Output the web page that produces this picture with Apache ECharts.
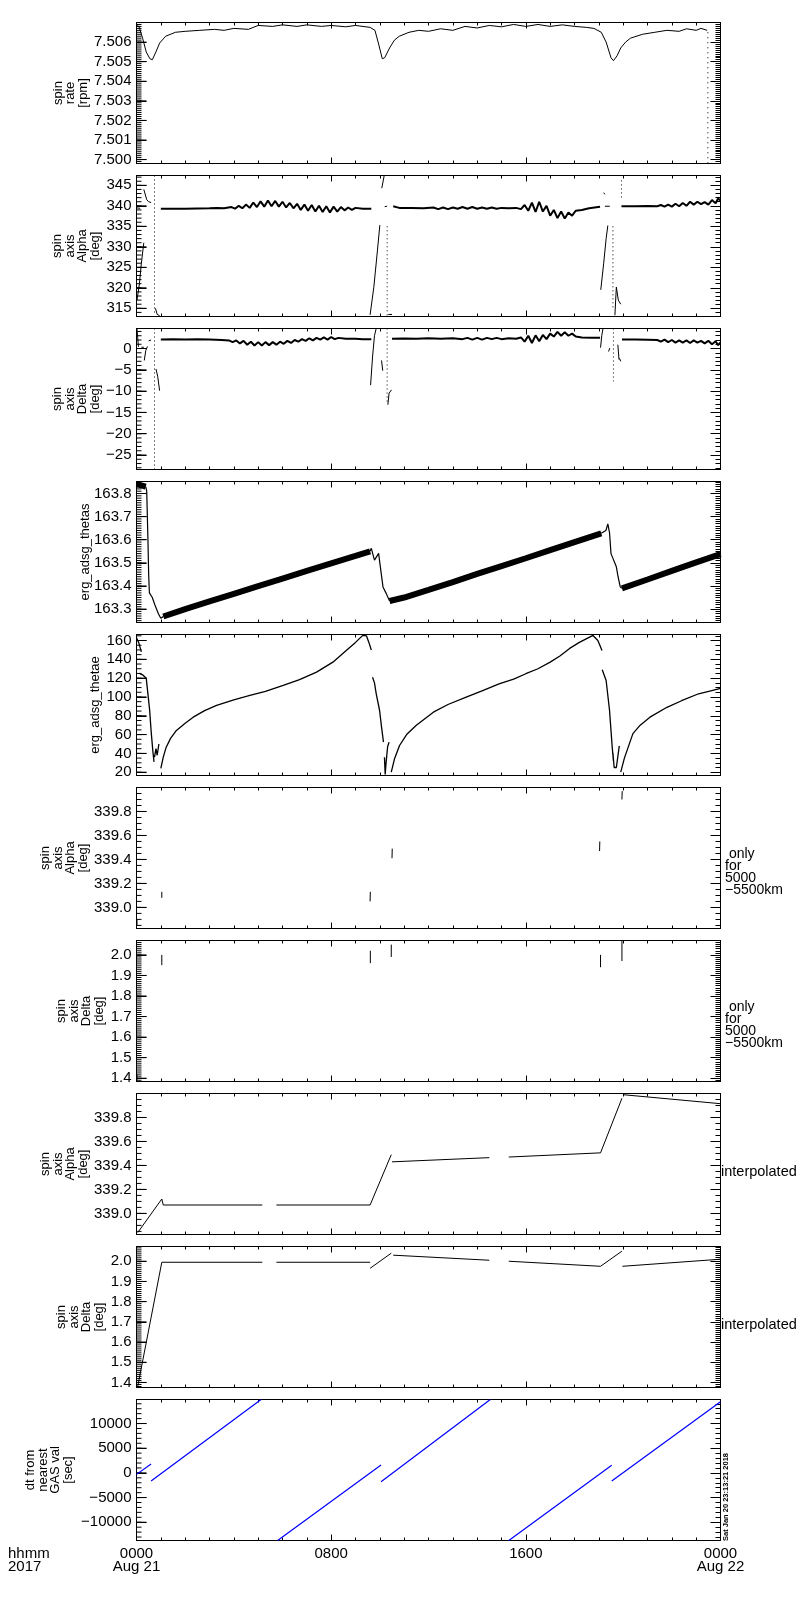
<!DOCTYPE html>
<html>
<head>
<meta charset="utf-8">
<script src="https://cdn.jsdelivr.net/npm/echarts@6/dist/echarts.min.js"></script>
<style>
  html, body { margin: 0; padding: 0; background: #fff; }
  #main { width: 800px; height: 1600px; }
</style>
</head>
<body>
<div id="main"></div>
<script>
// x ticks (hours from 2017-08-21 00:00)
var xTickHours = [0, 8, 16, 24];
var xTickLabels = ['0000\nAug 21', '0800', '1600', '0000\nAug 22'];

// y tick values per panel
var rateTicks = [7.500, 7.501, 7.502, 7.503, 7.504, 7.505, 7.506];
var alphaTicks = [315, 320, 325, 330, 335, 340, 345];
var deltaTicks = [-25, -20, -15, -10, -5, 0];
var thetasTicks = [163.3, 163.4, 163.5, 163.6, 163.7, 163.8];
var thetaeTicks = [20, 40, 60, 80, 100, 120, 140, 160];
var alphaRangeTicks = [339.0, 339.2, 339.4, 339.6, 339.8];
var deltaRangeTicks = [1.4, 1.5, 1.6, 1.7, 1.8, 1.9, 2.0];
var dtTicks = [-10000, -5000, 0, 5000, 10000];

// panel 1: spin rate [rpm]
var rateMain = [
  [0.0,7.50685],[0.1,7.5068],[0.25,7.5062],[0.4,7.5055],[0.55,7.50515],[0.65,7.5051],[0.8,7.5055],
  [0.95,7.50595],[1.2,7.5063],[1.6,7.5065],[2.0,7.50655],[2.6,7.5066],[3.2,7.50665],[3.6,7.5066],
  [4.0,7.5067],[4.6,7.50665],[5.0,7.50685],[5.6,7.5068],[6.0,7.50688],[6.6,7.5068],[7.0,7.50688],
  [7.6,7.5068],[8.0,7.50685],[8.6,7.50678],[9.0,7.50685],[9.6,7.50675],[9.8,7.5066],[9.95,7.5059],
  [10.1,7.50515],[10.2,7.5052],[10.4,7.5057],[10.6,7.5061],[10.8,7.5063],[11.2,7.5065],[11.6,7.5066],
  [12.0,7.50655],[12.5,7.50668],[13.0,7.5066],[13.5,7.5068],[14.0,7.50672],[14.5,7.50685],[15.0,7.50678],
  [15.5,7.5069],[16.0,7.5068],[16.5,7.5069],[17.0,7.5068],[17.5,7.50688],[18.0,7.5068],[18.5,7.50675],
  [18.8,7.5067],[19.1,7.5065],[19.3,7.506],[19.5,7.5052],[19.6,7.50505],[19.75,7.5053],[19.9,7.5057],
  [20.1,7.506],[20.3,7.5062],[20.8,7.5064],[21.3,7.5065],[21.8,7.5066],[22.3,7.50655],[22.6,7.50668],
  [23.0,7.5066],[23.2,7.5067],[23.45,7.5066]
];
var rateDrop = [[23.48,7.5065],[23.48,7.4998]];

// panel 2: spin axis Alpha [deg]
var alphaBand = [
  [1.0,339.3],[1.5,339.3],[2.0,339.3],[2.5,339.35],[3.0,339.4],[3.3,339.5],[3.6,339.4],[3.9,339.7],
  [4.05,339.3],[4.2,340.0],[4.35,339.4],[4.5,340.3],[4.65,339.5],[4.8,340.8],[4.95,339.7],[5.1,341.1],
  [5.25,339.8],[5.4,341.3],[5.55,339.9],[5.7,341.2],[5.85,339.8],[6.0,341.0],[6.15,339.6],[6.3,340.7],
  [6.45,339.4],[6.6,340.5],[6.75,339.0],[6.9,340.3],[7.05,338.8],[7.2,340.2],[7.35,338.6],[7.5,340.0],
  [7.65,338.5],[7.8,339.9],[7.95,338.4],[8.1,339.8],[8.25,338.6],[8.4,339.7],[8.55,338.9],[8.7,339.6],
  [8.85,339.0],[9.0,339.5],[9.3,339.3],[9.65,339.3],
  null,
  [10.55,339.9],[10.8,339.5],[11.3,339.5],[11.8,339.4],[12.2,339.6],[12.4,339.2],[12.6,339.6],[12.8,339.2],
  [13.0,339.6],[13.2,339.3],[13.4,339.7],[13.6,339.3],[13.8,339.7],[14.0,339.3],[14.2,339.6],[14.4,339.3],
  [14.6,339.6],[14.8,339.3],[15.0,339.5],[15.3,339.4],[15.6,339.5],[15.8,339.2],[15.95,340.2],[16.1,338.8],
  [16.25,340.8],[16.4,338.5],[16.55,341.0],[16.7,338.6],[16.85,340.0],[17.0,337.6],[17.15,339.0],[17.3,337.0],
  [17.45,338.6],[17.6,336.9],[17.75,338.4],[17.9,337.6],[18.05,338.8],[18.3,339.0],[18.6,339.4],[19.05,339.8],
  null,
  [19.93,339.9],[20.5,339.9],[21.0,339.95],[21.4,339.9],[21.55,340.2],[21.7,339.8],[21.85,340.3],[22.0,339.8],
  [22.15,340.5],[22.3,339.9],[22.45,340.7],[22.6,340.0],[22.75,341.0],[22.9,340.3],[23.05,341.0],[23.2,340.4],
  [23.35,340.9],[23.5,340.3],[23.65,341.4],[23.8,340.6],[23.9,341.8],[24.0,341.3]
];
var alphaLine = [
  [0.0,339.5],[0.15,339.4], null,
  [0.02,317],[0.12,321],[0.2,326],[0.3,331], null,
  [0.3,344],[0.42,341.5],[0.5,341],[0.6,340.8], null,
  [0.78,315],[0.85,313.5],[0.95,313.2], null,
  [9.6,313.4],[9.75,320],[9.9,329],[10.0,335.3], null,
  [10.08,344.3],[10.18,347.4], null,
  [10.35,313.5],[10.5,313.5], null,
  [10.2,339.8],[10.3,339.9], null,
  [19.08,319.5],[19.2,326],[19.3,332],[19.37,335.2], null,
  [19.2,343.2],[19.25,342.8], null,
  [19.25,339.9],[19.45,339.9], null,
  [19.66,313.3],[19.72,320.2],[19.8,317],[19.9,316]
];
var alphaDots = [[0.74,347.4],[0.74,313.6], null, [10.3,335],[10.3,313.2], null,
  [19.58,335],[19.58,314.8], null, [19.93,346.2],[19.93,342]];

// panel 3: spin axis Delta [deg]
var deltaBand = [
  [1.0,2.1],[1.5,2.15],[2.0,2.1],[2.5,2.15],[3.0,2.1],[3.5,2.0],[3.8,1.9],[3.95,1.5],[4.1,1.9],[4.25,1.2],
  [4.4,1.8],[4.55,0.9],[4.7,1.6],[4.85,0.7],[5.0,1.5],[5.15,0.7],[5.3,1.5],[5.45,0.8],[5.6,1.5],[5.75,0.9],
  [5.9,1.6],[6.05,1.1],[6.2,1.8],[6.35,1.3],[6.5,2.0],[6.65,1.6],[6.8,2.2],[6.95,1.8],[7.1,2.4],[7.25,1.9],
  [7.4,2.5],[7.55,2.1],[7.7,2.6],[7.85,2.1],[8.0,2.7],[8.15,2.2],[8.3,2.5],[8.6,2.3],[9.0,2.3],[9.3,2.2],[9.65,2.2],
  null,
  [10.5,2.3],[11.0,2.35],[11.5,2.3],[12.0,2.4],[12.5,2.3],[13.0,2.4],[13.4,2.2],[13.6,2.5],[13.8,2.1],[14.0,2.5],
  [14.2,2.1],[14.4,2.5],[14.6,2.2],[14.8,2.5],[15.0,2.2],[15.3,2.4],[15.6,2.3],[15.8,2.6],[15.95,1.6],[16.1,3.0],
  [16.25,1.3],[16.4,3.1],[16.55,1.7],[16.7,3.2],[16.85,2.2],[17.0,3.5],[17.15,2.8],[17.3,3.9],[17.45,3.0],[17.6,3.8],
  [17.75,3.0],[17.9,3.5],[18.05,2.8],[18.3,2.6],[18.7,2.5],[19.05,2.5],
  null,
  [19.95,2.1],[20.5,2.1],[21.0,2.05],[21.4,2.0],[21.55,1.6],[21.7,2.1],[21.85,1.5],[22.0,2.0],[22.15,1.4],[22.3,1.9],
  [22.45,1.4],[22.6,1.9],[22.75,1.3],[22.9,1.9],[23.05,1.4],[23.2,1.8],[23.35,1.2],[23.5,1.8],[23.65,1.0],[23.8,1.7],
  [23.9,0.8],[24.0,1.4]
];
var deltaLine = [
  [0.02,4.6],[0.05,2.5],[0.08,0.4], null,
  [0.2,0.3],[0.3,0.3], null,
  [0.32,-2.8],[0.38,-0.5],[0.45,0.5], null,
  [0.5,1.8],[0.6,2.0], null,
  [0.8,-4.8],[0.87,-6.5],[0.95,-9.9], null,
  [9.62,-8.6],[9.7,-2],[9.78,3],[9.85,4.7], null,
  [10.07,-2.8],[10.12,-5.2], null,
  [10.33,-13.2],[10.38,-10.5],[10.48,-9.7], null,
  [19.07,0.2],[19.12,3],[19.17,4.7], null,
  [19.4,-0.7],[19.45,0.1], null,
  [19.78,0.9],[19.83,-2.6], null,
  [19.85,-2.3],[19.9,-3.0]
];
var deltaDots = [[0.74,4.7],[0.74,-28.4], null, [10.3,4.7],[10.3,-12.7], null, [19.6,4.7],[19.6,-7.7]];

// panel 4: erg_adsg_thetas
var thetasBand = [
  [0.0,163.84],[0.2,163.835],[0.38,163.83], null,
  [1.1,163.268],[2,163.3],[3,163.333],[4,163.366],[5,163.399],[6,163.432],[7,163.465],[8,163.498],[9,163.53],[9.6,163.55],
  null,
  [10.4,163.335],[11,163.35],[12,163.383],[13,163.417],[14,163.452],[15,163.486],[16,163.52],[17,163.555],[18,163.59],[19.1,163.628],
  null,
  [19.95,163.39],[21,163.428],[22,163.465],[23,163.502],[24,163.538]
];
var thetasLine = [
  [0.38,163.83],[0.42,163.81],[0.47,163.6],[0.5,163.45],[0.53,163.37],[0.58,163.37],[0.65,163.35],[0.75,163.32],
  [0.9,163.28],[1.0,163.26],[1.1,163.268], null,
  [9.6,163.55],[9.65,163.563],[9.78,163.512],[9.95,163.541],[10.0,163.5],[10.1,163.42],[10.13,163.396],[10.26,163.368],[10.4,163.335],
  null,
  [19.1,163.628],[19.29,163.64],[19.37,163.669],[19.44,163.63],[19.5,163.54],[19.55,163.527],[19.72,163.483],[19.79,163.44],[19.88,163.396],[19.95,163.39]
];

// panel 5: erg_adsg_thetae
var thetaeLine = [
  [0.0,163],[0.1,157],[0.2,148], null,
  [0.12,125],[0.25,123.5],[0.4,120],[0.47,103],[0.54,86],[0.6,64],[0.67,43],[0.72,31], null,
  [0.74,36],[0.8,45],[0.85,38],[0.92,50], null,
  [1.0,24],[1.1,36],[1.22,46.6],[1.4,56],[1.64,64.4],[2.0,72],[2.33,78.5],[2.8,85.5],[3.29,91],[4.0,97],
  [4.66,101.6],[5.3,106],[6.03,112.2],[6.7,118.5],[7.4,126.4],[8.07,137],[8.62,149.5],[9.0,158],[9.3,165.5],
  [9.45,165],[9.55,158],[9.65,150], null,
  [9.7,121],[9.78,115],[9.85,103.6],[9.99,85.6],[10.07,68],[10.15,52], null,
  [10.19,36],[10.22,17.5],[10.25,28],[10.32,47],[10.38,52], null,
  [10.47,20],[10.6,34],[10.81,48.4],[11.1,60],[11.5,70],[12.2,83.8],[12.8,92],[13.55,99.8],[14.2,106.5],
  [14.9,114],[15.5,119],[16.0,124.7],[16.5,130],[17.0,137],[17.4,143.5],[17.8,151.6],[18.2,158],[18.5,162],
  [18.76,165.4],[18.96,160],[19.13,149.5], null,
  [19.14,129],[19.3,117.5],[19.44,85.6],[19.55,46.6],[19.6,32], null,
  [19.58,40],[19.63,25],[19.72,25],[19.84,48], null,
  [19.9,20],[20.05,35],[20.4,61],[20.7,70],[21.1,78.5],[21.8,89],[22.4,96],[23.1,103.4],[23.6,106.5],[24.0,109]
];

// panel 6 / 7: only for 5000-5500km
var alphaRange = [[0.02,338.85],[0.02,338.9], null, [1.04,339.08],[1.04,339.13], null, [9.6,339.05],[9.61,339.13], null,
  [10.5,339.41],[10.51,339.49], null, [19.03,339.47],[19.04,339.55], null, [19.95,339.9],[19.96,339.97]];
var deltaRange = [[0.02,1.39],[0.02,1.42], null, [1.04,1.95],[1.04,2.0], null, [9.61,1.96],[9.61,2.02], null,
  [10.47,1.99],[10.47,2.05], null, [19.07,1.94],[19.07,2.0], null, [19.95,1.97],[19.95,2.07]];

// panel 8 / 9: interpolated
var alphaInterp = [
  [0.05,338.84],[1.04,339.12],[1.1,339.07],[5.17,339.07], null,
  [5.75,339.07],[9.6,339.07],[10.47,339.49], null,
  [10.5,339.43],[14.5,339.465], null,
  [15.3,339.47],[19.07,339.505],[19.95,339.96], null,
  [20.0,339.99],[24,339.915]
];
var deltaInterp = [
  [0.05,1.38],[1.04,1.995],[5.17,1.995], null,
  [5.75,1.995],[9.6,1.995], null,
  [9.6,1.965],[10.47,2.04], null,
  [10.55,2.03],[14.5,2.005], null,
  [15.3,2.0],[19.07,1.975],[19.95,2.05], null,
  [19.97,1.975],[24,2.01]
];

// panel 10: dt from nearest GAS val [sec]
var dtGas = [
  [0,-300],[0.6,1800], null,
  [0.6,-1650],[5.12,14870], null,
  [5.8,-13700],[10.05,1600], null,
  [10.05,-1800],[14.54,14870], null,
  [15.3,-13700],[19.53,1550], null,
  [19.53,-1650],[24,14400]
];

var FONT = '"Liberation Sans", Arial, sans-serif';

var panels = [
  {min: 7.4998, max: 7.5070, ticks: rateTicks, minor: 0.0001, dec: 3, name: 'spin\nrate\n[rpm]', gap: 47},
  {min: 313, max: 347.4, ticks: alphaTicks, minor: 1, dec: 0, name: 'spin\naxis\nAlpha\n[deg]', gap: 35},
  {min: -28.4, max: 4.7, ticks: deltaTicks, minor: 1, dec: 0, name: 'spin\naxis\nDelta\n[deg]', gap: 35},
  {min: 163.242, max: 163.852, ticks: thetasTicks, minor: 0.01, dec: 1, name: 'erg_adsg_thetas', gap: 45},
  {min: 16.5, max: 166.4, ticks: thetaeTicks, minor: 5, dec: 0, name: 'erg_adsg_thetae', gap: 35},
  {min: 338.824, max: 340.0, ticks: alphaRangeTicks, minor: 0.05, dec: 1, name: 'spin\naxis\nAlpha\n[deg]', gap: 47},
  {min: 1.384, max: 2.07, ticks: deltaRangeTicks, minor: 0.01, dec: 1, name: 'spin\naxis\nDelta\n[deg]', gap: 31},
  {min: 338.824, max: 340.0, ticks: alphaRangeTicks, minor: 0.05, dec: 1, name: 'spin\naxis\nAlpha\n[deg]', gap: 47},
  {min: 1.375, max: 2.073, ticks: deltaRangeTicks, minor: 0.01, dec: 1, name: 'spin\naxis\nDelta\n[deg]', gap: 31},
  {min: -13700, max: 14870, ticks: dtTicks, minor: 1000, dec: 0, name: 'dt from\nnearest\nGAS val\n[sec]', gap: 62}
];

// minor tick positions: every step of the panel's minor interval inside its range
function minorValues(p) {
  var out = [];
  var k0 = Math.ceil(p.min / p.minor - 1e-6), k1 = Math.floor(p.max / p.minor + 1e-6);
  for (var k = k0; k <= k1; k++) out.push(+(k * p.minor).toFixed(6));
  return out;
}

var GRID_W = 584;
var HOURS_PER_PX = 24 / GRID_W;
var grids = [], xAxes = [], yAxes = [], series = [];

function fmtNum(v, dec) {
  return v.toFixed(dec).replace('-', '\u2212');
}

panels.forEach(function (p, i) {
  grids.push({
    left: 136.5, top: 22.5 + 153 * i, width: GRID_W, height: 141,
    show: true, borderColor: '#000', borderWidth: 1
  });

  ['bottom', 'top'].forEach(function (pos) {
    var showLab = (pos === 'bottom' && i === panels.length - 1);
    xAxes.push({
      gridIndex: i, type: 'value', position: pos, min: 0, max: 24, interval: 8,
      axisLine: {show: false, onZero: false}, splitLine: {show: false},
      axisTick: {show: true, inside: true, length: 6, lineStyle: {color: '#000', width: 1}},
      minorTick: {show: true, splitNumber: 8, length: 3, lineStyle: {color: '#000', width: 1}},
      axisLabel: {
        show: showLab, margin: 7, fontSize: 15, lineHeight: 13, color: '#000', fontFamily: FONT,
        showMinLabel: true, showMaxLabel: true,
        formatter: function (v) {
          var k = xTickHours.indexOf(Math.round(v));
          return k >= 0 ? xTickLabels[k] : '';
        }
      }
    });
  });

  var minors = minorValues(p);
  // 3i: left axis with labels, name and major ticks; 3i+1, 3i+2: right-side tick axes
  yAxes.push({
    gridIndex: i, type: 'value', position: 'left', min: p.min, max: p.max,
    axisLine: {show: true, onZero: false, lineStyle: {color: '#000', width: 1}}, splitLine: {show: false},
    axisTick: {show: true, inside: true, length: 10, customValues: p.ticks, lineStyle: {color: '#000', width: 1}},
    axisLabel: {
      show: true, margin: 5, fontSize: 15, color: '#000', fontFamily: FONT,
      customValues: p.ticks,
      formatter: function (v) { return fmtNum(v, p.dec); }
    },
    name: p.name, nameLocation: 'middle', nameRotate: 90, nameGap: p.gap, nameMoveOverlap: false,
    nameTextStyle: {fontSize: 13, lineHeight: 12.5, color: '#000', fontFamily: FONT}
  });
  [{vals: p.ticks, len: 10}, {vals: minors, len: 5}].forEach(function (t) {
    yAxes.push({
      gridIndex: i, type: 'value', position: 'right', min: p.min, max: p.max,
      axisLine: {show: true, onZero: false, lineStyle: {color: '#000', width: 1}},
      splitLine: {show: false},
      axisTick: {show: true, inside: true, length: t.len, customValues: t.vals,
        lineStyle: {color: '#000', width: 1}},
      axisLabel: {show: false}
    });
  });

  // left-edge tick marks, laid along the panel's own scales from the tick values
  var marks = [];
  [{vals: p.ticks, len: 10}, {vals: minors, len: 5}].forEach(function (t) {
    t.vals.forEach(function (v) {
      marks.push([0, v], [t.len * HOURS_PER_PX, v], ['-', '-']);
    });
  });
  series.push({
    type: 'line', xAxisIndex: i * 2, yAxisIndex: i * 3, data: marks,
    showSymbol: false, symbol: 'none', connectNulls: false, clip: true, silent: true, animation: false,
    lineStyle: {color: '#000', width: 1}
  });
});

function addLine(panel, data, color, width, dash) {
  series.push({
    type: 'line', xAxisIndex: panel * 2, yAxisIndex: panel * 3,
    data: data.map(function (d) { return d === null ? ['-', '-'] : d; }),
    showSymbol: false, symbol: 'none', connectNulls: false, clip: true,
    silent: true, animation: false,
    lineStyle: {color: color, width: width, type: dash || 'solid'}
  });
}

addLine(0, rateMain, '#000', 1);
addLine(0, rateDrop, '#000', 1, [1, 4]);
addLine(1, alphaBand, '#000', 2);
addLine(1, alphaLine, '#000', 1);
addLine(1, alphaDots, '#000', 1, [1, 3]);
addLine(2, deltaBand, '#000', 2);
addLine(2, deltaLine, '#000', 1);
addLine(2, deltaDots, '#000', 1, [1, 3]);
addLine(3, thetasBand, '#000', 6);
addLine(3, thetasLine, '#000', 1.2);
addLine(4, thetaeLine, '#000', 1.3);
addLine(5, alphaRange, '#000', 1);
addLine(6, deltaRange, '#000', 1);
addLine(7, alphaInterp, '#000', 1);
addLine(8, deltaInterp, '#000', 1);
addLine(9, dtGas, '#0000ff', 1.2);

var graphics = [
  {type: 'text', left: 8, top: 1546, style: {text: 'hhmm\n2017', font: '15px ' + FONT, lineHeight: 13, fill: '#000'}},
  {type: 'text', x: 725, y: 848, style: {text: ' only\nfor\n5000\n\u22125500km', font: '14px ' + FONT, lineHeight: 12, fill: '#000', verticalAlign: 'top'}},
  {type: 'text', x: 725, y: 1001, style: {text: ' only\nfor\n5000\n\u22125500km', font: '14px ' + FONT, lineHeight: 12, fill: '#000', verticalAlign: 'top'}},
  {type: 'text', x: 721, y: 1172, style: {text: 'interpolated', font: '14.5px ' + FONT, fill: '#000', verticalAlign: 'middle'}},
  {type: 'text', x: 721, y: 1325, style: {text: 'interpolated', font: '14.5px ' + FONT, fill: '#000', verticalAlign: 'middle'}},
  {type: 'text', x: 726, y: 1497, rotation: Math.PI / 2,
    style: {text: 'Sat Jan 20 23:13:21 2018', font: 'bold 7.5px ' + FONT, fill: '#000', align: 'center', verticalAlign: 'middle'}}
];

var chart = echarts.init(document.getElementById('main'), null, {renderer: 'canvas'});
chart.setOption({
  animation: false,
  backgroundColor: '#fff',
  grid: grids,
  xAxis: xAxes,
  yAxis: yAxes,
  series: series,
  graphic: graphics
});
</script>
</body>
</html>
